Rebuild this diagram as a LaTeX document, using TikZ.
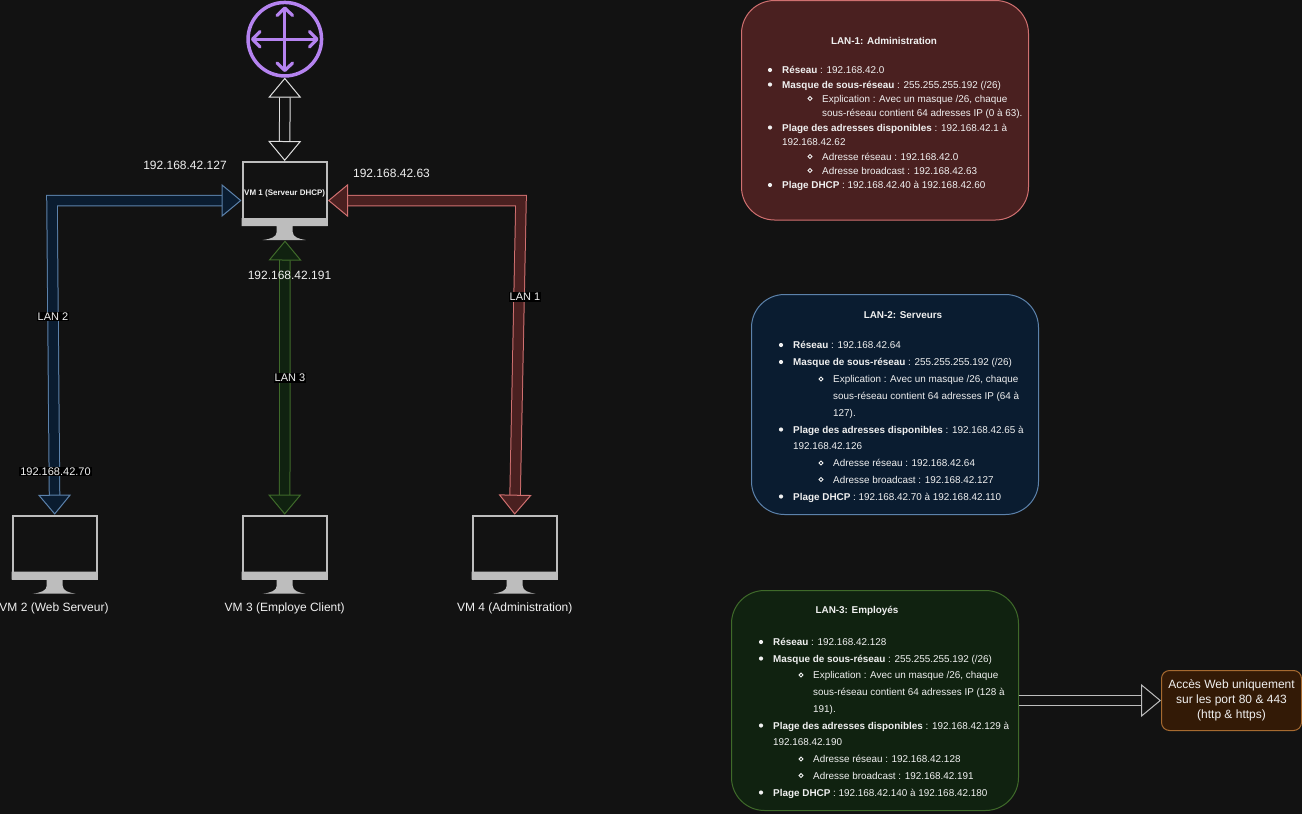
\documentclass[tikz,border=0pt]{standalone}
\usepackage{fontspec}
\setmainfont{Liberation Sans}
\usetikzlibrary{arrows.meta}
\definecolor{bgc}{HTML}{121212}
\definecolor{monc}{HTML}{BDBDBD}
\definecolor{txtc}{HTML}{F0F0F0}
\definecolor{purp}{HTML}{B583F0}
\definecolor{whs}{HTML}{E0E0E0}
\definecolor{blues}{HTML}{5C82AB}
\definecolor{bluef}{HTML}{0A1C30}
\definecolor{reds}{HTML}{D07070}
\definecolor{redf}{HTML}{4A2020}
\definecolor{greens}{HTML}{3F6A2A}
\definecolor{greenf}{HTML}{102210}
\definecolor{orgs}{HTML}{A66A30}
\definecolor{orgf}{HTML}{331A06}
\tikzset{
  x=1pt,y=-1pt,
  fat/.style n args={2}{draw=#1,line width=1pt,double=#2,double distance=9.5pt,line join=miter,
    {Triangle[length=20pt,width=33pt,line width=1pt,color=#1,fill=#2]}-{Triangle[length=20pt,width=33pt,line width=1pt,color=#1,fill=#2]}},
  fatone/.style n args={2}{draw=#1,line width=1pt,double=#2,double distance=9.5pt,
    -{Triangle[length=20pt,width=33pt,line width=1pt,color=#1,fill=#2]}},
  screen/.style={draw=monc,line width=2pt,minimum width=84pt,minimum height=63pt,inner sep=0pt,outer sep=1pt,
    font=\fontsize{8}{9}\selectfont\bfseries,text=txtc},
  lbl/.style={text=txtc,font=\fontsize{12}{14}\selectfont,inner sep=1pt},
  tag/.style={text=txtc,font=\fontsize{11}{13}\selectfont,inner sep=1pt,fill=black},
  card/.style={line width=1pt,rounded corners=33pt},
  head/.style={text=txtc,font=\fontsize{9.9}{11}\selectfont\bfseries,inner sep=0pt},
  row/.style={anchor=base west,text=txtc,font=\fontsize{9.9}{11}\selectfont,inner sep=0pt},
}
% \vmshape{name}{cx}{top}{text}
\newcommand{\vmshape}[4]{%
  \node[screen] (#1) at (#2,#3+32.5) {#4};
  \begin{scope}[shift={(#2,#3)}]
    \fill[monc] (-43,57) -- (43,57) -- (43,65) -- (8,65) -- (8,71) .. controls (8,76) and (14,78) .. (21,79)
      -- (-22,79) .. controls (-14,78) and (-8,76) .. (-8,71) -- (-8,65) -- (-43,65) -- cycle;
  \end{scope}}
\newcommand{\bul}[4]{% name, x of text, baseline y, text
  \fill[txtc] (#2-12,#3-3.5) circle (2.1pt);
  \node[row] (#1) at (#2,#3) {#4};}
\newcommand{\sub}[4]{%
  \draw[txtc,line width=0.9pt] (#2-12,#3-3.5) circle (1.9pt);
  \node[row] (#1) at (#2,#3) {#4};}
\newcommand{\cont}[4]{\node[row] (#1) at (#2,#3) {#4};}
\begin{document}
\begin{tikzpicture}
\useasboundingbox (0,0) rectangle (1302,814);
\fill[bgc] (0,0) rectangle (1302,814);
% router
\node[circle,draw=purp,line width=3.5pt,minimum size=73.5pt,inner sep=0pt,outer sep=1.75pt] (router) at (284.8,39.2) {};
\begin{scope}[draw=purp,line width=3.2pt,line cap=round,line join=round]
  \draw (284.8,9) -- (284.8,70) (253,39.2) -- (316.5,39.2);
  \draw (277,15.5) -- (284.8,8) -- (292.6,15.5);
  \draw (277,63) -- (284.8,70.5) -- (292.6,63);
  \draw (260,31.5) -- (252.5,39.2) -- (260,47);
  \draw (309.5,31.5) -- (317,39.2) -- (309.5,47);
\end{scope}
% monitors
\vmshape{vmone}{284.7}{161}{VM 1 (Serveur DHCP)}
\vmshape{vmtwo}{54.7}{514.7}{}
\vmshape{vmthree}{284.7}{514.7}{}
\vmshape{vmfour}{514.7}{514.7}{}
\coordinate (vmonebase) at (285,240.5);
\coordinate (blueknee) at (52,200.5);
\coordinate (redknee) at (521,200.5);
\coordinate (vmonew) at (241.5,200.5);
\coordinate (vmonee) at (328,200.5);
% connectors
\draw[fat={whs}{bgc}] (router.south) -- (vmone.north);
\draw[fat={blues}{bluef}] (vmonew) -- (blueknee) -- (vmtwo.north);
\draw[fat={reds}{redf}] (vmonee) -- (redknee) -- (vmfour.north);
\draw[fat={greens}{greenf}] (vmonebase) -- (vmthree.north);
% labels
\node[tag] (lantwo) at (53,316.5) {LAN 2};
\node[tag] (lanthree) at (290,378) {LAN 3};
\node[tag] (lanone) at (525,297) {LAN 1};
\node[tag] (iptwo) at (55.5,471.5) {192.168.42.70};
\node[lbl] (ipa) at (185,165) {192.168.42.127};
\node[lbl] (ipb) at (391.5,173) {192.168.42.63};
\node[lbl] (ipc) at (289.5,275) {192.168.42.191};
\node[lbl] (namea) at (54,608) {VM 2 (Web Serveur)};
\node[lbl] (nameb) at (284.7,608) {VM 3 (Employe Client)};
\node[lbl] (namec) at (514.7,608) {VM 4 (Administration)};
% LAN-1
\draw[card,draw=reds,fill=redf] (741.5,0.5) rectangle (1028.5,220);
\node[head] (ta) at (884,41) {LAN-1: Administration};
\bul{aa}{782}{73.5}{\textbf{Réseau} : 192.168.42.0}
\bul{ab}{782}{88}{\textbf{Masque de sous-réseau} : 255.255.255.192 (/26)}
\sub{ac}{822}{102}{Explication : Avec un masque /26, chaque}
\cont{ad}{822}{116.5}{sous-réseau contient 64 adresses IP (0 à 63).}
\bul{ae}{782}{131}{\textbf{Plage des adresses disponibles} : 192.168.42.1 à}
\cont{af}{782}{145.5}{192.168.42.62}
\sub{ag}{822}{160}{Adresse réseau : 192.168.42.0}
\sub{ah}{822}{174}{Adresse broadcast : 192.168.42.63}
\bul{ai}{782}{188.5}{\textbf{Plage DHCP} : 192.168.42.40 à 192.168.42.60}
% LAN-2
\draw[card,draw=blues,fill=bluef] (751.5,294.5) rectangle (1038.5,514.5);
\node[head] (tb) at (903,315) {LAN-2: Serveurs};
\bul{ba}{793}{348.5}{\textbf{Réseau} : 192.168.42.64}
\bul{bb}{793}{365.5}{\textbf{Masque de sous-réseau} : 255.255.255.192 (/26)}
\sub{bc}{833}{382.5}{Explication : Avec un masque /26, chaque}
\cont{bd}{833}{399}{sous-réseau contient 64 adresses IP (64 à}
\cont{be}{833}{416}{127).}
\bul{bf}{793}{433}{\textbf{Plage des adresses disponibles} : 192.168.42.65 à}
\cont{bg}{793}{449.5}{192.168.42.126}
\sub{bh}{833}{466.5}{Adresse réseau : 192.168.42.64}
\sub{bi}{833}{483}{Adresse broadcast : 192.168.42.127}
\bul{bj}{793}{500}{\textbf{Plage DHCP} : 192.168.42.70 à 192.168.42.110}
% LAN-3
\draw[card,draw=greens,fill=greenf] (731.5,590.5) rectangle (1018.5,810.5);
\node[head] (tc) at (857,611) {LAN-3: Employés};
\bul{ca}{773}{645.5}{\textbf{Réseau} : 192.168.42.128}
\bul{cb}{773}{662}{\textbf{Masque de sous-réseau} : 255.255.255.192 (/26)}
\sub{cc}{813}{678.5}{Explication : Avec un masque /26, chaque}
\cont{cd}{813}{695.5}{sous-réseau contient 64 adresses IP (128 à}
\cont{ce}{813}{712}{191).}
\bul{cf}{773}{729}{\textbf{Plage des adresses disponibles} : 192.168.42.129 à}
\cont{cg}{773}{745.5}{192.168.42.190}
\sub{ch}{813}{762.5}{Adresse réseau : 192.168.42.128}
\sub{ci}{813}{779}{Adresse broadcast : 192.168.42.191}
\bul{cj}{773}{796}{\textbf{Plage DHCP} : 192.168.42.140 à 192.168.42.180}
% web access
\node[draw=orgs,fill=orgf,line width=1pt,rounded corners=8pt,minimum width=140pt,minimum height=60pt,inner sep=0pt,
  text=txtc,align=center,font=\fontsize{12}{15}\selectfont,outer sep=0.5pt] (web) at (1231.5,700.5)
  {Accès Web uniquement\\sur les port 80 \& 443\\(http \& https)};
\coordinate (lanthreeout) at (1018.5,700.5);
\draw[fatone={monc}{bgc}] (lanthreeout) -- (web.west);
\end{tikzpicture}
\end{document}
